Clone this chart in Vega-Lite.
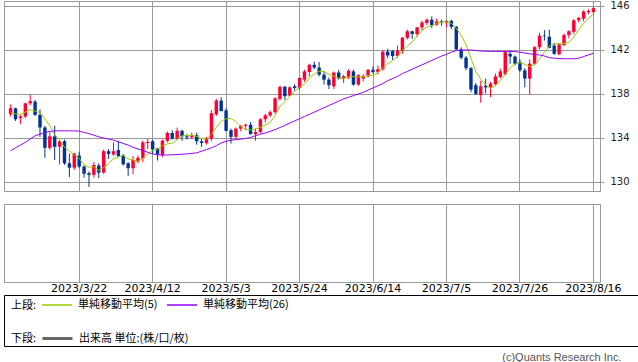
{
"$schema": "https://vega.github.io/schema/vega-lite/v6.json",
"padding": {"left": 3, "top": 0, "right": 0, "bottom": 0},
"background": "white",
"bounds": "flush",
"spacing": 13,
"title": {"text": "(c)Quants Research Inc.", "orient": "bottom", "anchor": "end", "font": "Liberation Sans", "fontSize": 11, "fontWeight": "normal", "color": "#555555", "offset": 5, "dx": -17},
"resolve": {"scale": {"x": "independent", "y": "independent", "color": "independent"}, "legend": {"color": "independent"}, "axis": {"x": "independent", "y": "independent"}},
"datasets": {"px": [
{"d":"2023/3/2","o":136.15,"h":137.05,"l":135.95,"c":136.7,"m5":136.34,"m26":132.83},
{"d":"2023/3/3","o":136.7,"h":136.75,"l":135.55,"c":135.7,"m5":136.2,"m26":133.1},
{"d":"2023/3/6","o":135.8,"h":136.1,"l":135.25,"c":135.95,"m5":136.15,"m26":133.35},
{"d":"2023/3/7","o":135.95,"h":137.2,"l":135.8,"c":137.15,"m5":136.34,"m26":133.6},
{"d":"2023/3/8","o":137.15,"h":137.9,"l":136.95,"c":137.35,"m5":136.57,"m26":133.9},
{"d":"2023/3/9","o":137.3,"h":137.45,"l":136.0,"c":136.1,"m5":136.45,"m26":134.2},
{"d":"2023/3/10","o":136.1,"h":136.6,"l":134.1,"c":134.95,"m5":136.3,"m26":134.35},
{"d":"2023/3/13","o":134.95,"h":135.1,"l":132.2,"c":133.1,"m5":135.73,"m26":134.5},
{"d":"2023/3/14","o":133.1,"h":134.6,"l":132.9,"c":134.15,"m5":135.13,"m26":134.6},
{"d":"2023/3/15","o":134.15,"h":135.1,"l":132.0,"c":133.2,"m5":134.3,"m26":134.65},
{"d":"2023/3/16","o":133.2,"h":133.8,"l":131.6,"c":133.7,"m5":133.82,"m26":134.65},
{"d":"2023/3/17","o":133.7,"h":133.85,"l":131.55,"c":131.7,"m5":133.17,"m26":134.65},
{"d":"2023/3/20","o":131.7,"h":132.6,"l":130.45,"c":131.3,"m5":132.81,"m26":134.65},
{"d":"2023/3/21","o":131.3,"h":132.65,"l":131.1,"c":132.6,"m5":132.5,"m26":134.65},
{"d":"2023/3/22","o":132.4,"h":132.75,"l":131.25,"c":131.4,"m5":132.14,"m26":134.62},
{"d":"2023/3/23","o":131.4,"h":131.5,"l":130.4,"c":130.75,"m5":131.55,"m26":134.5},
{"d":"2023/3/24","o":130.8,"h":130.95,"l":129.55,"c":130.65,"m5":131.34,"m26":134.4},
{"d":"2023/3/27","o":130.65,"h":131.8,"l":130.4,"c":131.55,"m5":131.39,"m26":134.25},
{"d":"2023/3/28","o":131.5,"h":131.7,"l":130.35,"c":130.85,"m5":131.04,"m26":134.1},
{"d":"2023/3/29","o":130.85,"h":132.95,"l":130.75,"c":132.8,"m5":131.32,"m26":134.0},
{"d":"2023/3/30","o":132.8,"h":133.0,"l":132.1,"c":132.55,"m5":131.68,"m26":133.9},
{"d":"2023/3/31","o":132.5,"h":133.6,"l":132.4,"c":132.8,"m5":132.11,"m26":133.8},
{"d":"2023/4/3","o":132.9,"h":133.75,"l":132.3,"c":132.35,"m5":132.27,"m26":133.65},
{"d":"2023/4/4","o":132.4,"h":132.55,"l":131.5,"c":131.6,"m5":132.42,"m26":133.5},
{"d":"2023/4/5","o":131.7,"h":131.8,"l":130.55,"c":131.25,"m5":132.11,"m26":133.35},
{"d":"2023/4/6","o":131.25,"h":132.35,"l":130.7,"c":132.0,"m5":132.0,"m26":133.15},
{"d":"2023/4/7","o":131.85,"h":132.4,"l":131.7,"c":132.2,"m5":131.88,"m26":133.0},
{"d":"2023/4/10","o":132.15,"h":133.75,"l":131.8,"c":133.6,"m5":132.13,"m26":132.85},
{"d":"2023/4/11","o":133.55,"h":133.9,"l":133.0,"c":133.65,"m5":132.54,"m26":132.7},
{"d":"2023/4/12","o":133.7,"h":133.85,"l":132.55,"c":132.95,"m5":132.88,"m26":132.55},
{"d":"2023/4/13","o":133.05,"h":133.1,"l":131.95,"c":132.5,"m5":132.98,"m26":132.47},
{"d":"2023/4/14","o":132.45,"h":133.85,"l":132.25,"c":133.75,"m5":133.29,"m26":132.45},
{"d":"2023/4/17","o":133.75,"h":134.6,"l":133.6,"c":134.45,"m5":133.46,"m26":132.45},
{"d":"2023/4/18","o":134.45,"h":134.7,"l":133.85,"c":133.95,"m5":133.52,"m26":132.47},
{"d":"2023/4/19","o":133.95,"h":134.95,"l":133.8,"c":134.65,"m5":133.86,"m26":132.5},
{"d":"2023/4/20","o":134.65,"h":134.75,"l":133.75,"c":134.15,"m5":134.19,"m26":132.52},
{"d":"2023/4/21","o":134.15,"h":134.35,"l":133.85,"c":134.05,"m5":134.25,"m26":132.55},
{"d":"2023/4/24","o":134.05,"h":134.5,"l":133.9,"c":134.25,"m5":134.21,"m26":132.6},
{"d":"2023/4/25","o":134.25,"h":134.5,"l":133.4,"c":133.7,"m5":134.16,"m26":132.65},
{"d":"2023/4/26","o":133.7,"h":133.9,"l":133.2,"c":133.55,"m5":133.94,"m26":132.8},
{"d":"2023/4/27","o":133.55,"h":134.1,"l":133.4,"c":133.95,"m5":133.9,"m26":132.95},
{"d":"2023/4/28","o":133.95,"h":136.55,"l":133.7,"c":136.25,"m5":134.34,"m26":133.1},
{"d":"2023/5/1","o":136.15,"h":137.55,"l":136.0,"c":137.4,"m5":134.97,"m26":133.3},
{"d":"2023/5/2","o":137.4,"h":137.7,"l":136.4,"c":136.45,"m5":135.52,"m26":133.55},
{"d":"2023/5/3","o":136.5,"h":136.7,"l":134.6,"c":134.65,"m5":135.74,"m26":133.7},
{"d":"2023/5/4","o":134.7,"h":134.85,"l":133.5,"c":134.1,"m5":135.77,"m26":133.8},
{"d":"2023/5/5","o":134.1,"h":134.95,"l":133.9,"c":134.85,"m5":135.49,"m26":133.85},
{"d":"2023/5/8","o":134.85,"h":135.2,"l":134.6,"c":135.1,"m5":135.03,"m26":133.9},
{"d":"2023/5/9","o":135.1,"h":135.3,"l":134.7,"c":135.2,"m5":134.78,"m26":133.95},
{"d":"2023/5/10","o":135.2,"h":135.45,"l":134.3,"c":134.35,"m5":134.72,"m26":134.05},
{"d":"2023/5/11","o":134.35,"h":134.85,"l":133.75,"c":134.55,"m5":134.81,"m26":134.2},
{"d":"2023/5/12","o":134.55,"h":135.8,"l":134.4,"c":135.7,"m5":134.98,"m26":134.35},
{"d":"2023/5/15","o":135.7,"h":136.2,"l":135.4,"c":136.05,"m5":135.17,"m26":134.45},
{"d":"2023/5/16","o":136.05,"h":136.5,"l":135.9,"c":136.35,"m5":135.4,"m26":134.6},
{"d":"2023/5/17","o":136.35,"h":137.7,"l":136.2,"c":137.6,"m5":136.05,"m26":134.75},
{"d":"2023/5/18","o":137.55,"h":138.75,"l":137.4,"c":138.65,"m5":136.87,"m26":134.95},
{"d":"2023/5/19","o":138.65,"h":138.75,"l":137.45,"c":137.8,"m5":137.29,"m26":135.15},
{"d":"2023/5/22","o":137.85,"h":138.7,"l":137.8,"c":138.6,"m5":137.8,"m26":135.35},
{"d":"2023/5/23","o":138.7,"h":138.9,"l":138.3,"c":138.55,"m5":138.24,"m26":135.55},
{"d":"2023/5/24","o":138.55,"h":139.55,"l":138.4,"c":139.45,"m5":138.61,"m26":135.75},
{"d":"2023/5/25","o":139.3,"h":140.2,"l":139.1,"c":140.05,"m5":138.89,"m26":135.95},
{"d":"2023/5/26","o":140.0,"h":140.75,"l":139.6,"c":140.65,"m5":139.46,"m26":136.15},
{"d":"2023/5/29","o":140.65,"h":140.95,"l":140.25,"c":140.4,"m5":139.82,"m26":136.35},
{"d":"2023/5/30","o":140.4,"h":140.9,"l":139.6,"c":139.75,"m5":140.06,"m26":136.55},
{"d":"2023/5/31","o":139.75,"h":140.1,"l":138.85,"c":139.3,"m5":140.03,"m26":136.75},
{"d":"2023/6/1","o":139.3,"h":139.5,"l":138.45,"c":138.8,"m5":139.78,"m26":136.95},
{"d":"2023/6/2","o":138.7,"h":140.05,"l":138.45,"c":139.95,"m5":139.64,"m26":137.15},
{"d":"2023/6/5","o":139.95,"h":140.2,"l":139.3,"c":139.4,"m5":139.44,"m26":137.35},
{"d":"2023/6/6","o":139.4,"h":139.75,"l":139.0,"c":139.6,"m5":139.41,"m26":137.55},
{"d":"2023/6/7","o":139.5,"h":140.25,"l":139.35,"c":140.1,"m5":139.57,"m26":137.7},
{"d":"2023/6/8","o":140.05,"h":140.2,"l":138.75,"c":138.85,"m5":139.58,"m26":137.85},
{"d":"2023/6/9","o":138.85,"h":139.8,"l":138.75,"c":139.7,"m5":139.53,"m26":138.0},
{"d":"2023/6/12","o":139.4,"h":139.8,"l":139.15,"c":139.6,"m5":139.57,"m26":138.15},
{"d":"2023/6/13","o":139.6,"h":140.25,"l":139.5,"c":140.2,"m5":139.69,"m26":138.35},
{"d":"2023/6/14","o":140.2,"h":140.5,"l":139.85,"c":140.0,"m5":139.67,"m26":138.55},
{"d":"2023/6/15","o":140.0,"h":140.6,"l":139.8,"c":140.25,"m5":139.95,"m26":138.75},
{"d":"2023/6/16","o":140.25,"h":141.95,"l":140.1,"c":141.85,"m5":140.38,"m26":138.95},
{"d":"2023/6/19","o":141.85,"h":142.1,"l":141.25,"c":141.5,"m5":140.76,"m26":139.2},
{"d":"2023/6/20","o":141.9,"h":142.0,"l":141.1,"c":141.45,"m5":141.01,"m26":139.4},
{"d":"2023/6/21","o":141.45,"h":142.4,"l":141.3,"c":141.95,"m5":141.4,"m26":139.6},
{"d":"2023/6/22","o":141.9,"h":143.2,"l":141.65,"c":143.1,"m5":141.97,"m26":139.85},
{"d":"2023/6/23","o":143.1,"h":143.85,"l":142.95,"c":143.7,"m5":142.34,"m26":140.05},
{"d":"2023/6/26","o":143.7,"h":143.75,"l":143.0,"c":143.45,"m5":142.73,"m26":140.25},
{"d":"2023/6/27","o":143.45,"h":144.1,"l":143.2,"c":144.05,"m5":143.25,"m26":140.45},
{"d":"2023/6/28","o":144.05,"h":144.65,"l":143.8,"c":144.5,"m5":143.76,"m26":140.65},
{"d":"2023/6/29","o":144.45,"h":144.85,"l":144.25,"c":144.75,"m5":144.09,"m26":140.85},
{"d":"2023/6/30","o":144.75,"h":145.05,"l":144.0,"c":144.25,"m5":144.2,"m26":141.05},
{"d":"2023/7/3","o":144.3,"h":144.85,"l":144.2,"c":144.6,"m5":144.43,"m26":141.25},
{"d":"2023/7/4","o":144.6,"h":144.75,"l":144.2,"c":144.5,"m5":144.52,"m26":141.45},
{"d":"2023/7/5","o":144.5,"h":144.7,"l":144.05,"c":144.65,"m5":144.55,"m26":141.6},
{"d":"2023/7/6","o":144.65,"h":144.75,"l":143.9,"c":144.1,"m5":144.42,"m26":141.8},
{"d":"2023/7/7","o":144.1,"h":144.2,"l":142.0,"c":142.05,"m5":143.98,"m26":141.95},
{"d":"2023/7/10","o":142.05,"h":142.25,"l":141.15,"c":141.3,"m5":143.32,"m26":142.0},
{"d":"2023/7/11","o":141.3,"h":141.45,"l":140.15,"c":140.35,"m5":142.49,"m26":142.0},
{"d":"2023/7/12","o":140.35,"h":140.45,"l":138.15,"c":138.4,"m5":141.24,"m26":142.0},
{"d":"2023/7/13","o":138.8,"h":139.0,"l":137.9,"c":138.0,"m5":140.02,"m26":141.95},
{"d":"2023/7/14","o":137.9,"h":139.2,"l":137.2,"c":138.7,"m5":139.35,"m26":141.9},
{"d":"2023/7/17","o":138.75,"h":139.4,"l":138.05,"c":138.6,"m5":138.81,"m26":141.88},
{"d":"2023/7/18","o":138.6,"h":139.1,"l":137.7,"c":138.95,"m5":138.53,"m26":141.87},
{"d":"2023/7/19","o":138.9,"h":139.85,"l":138.8,"c":139.6,"m5":138.77,"m26":141.87},
{"d":"2023/7/20","o":139.55,"h":140.3,"l":139.4,"c":140.05,"m5":139.18,"m26":141.86},
{"d":"2023/7/21","o":139.8,"h":141.95,"l":139.7,"c":141.8,"m5":139.8,"m26":141.86},
{"d":"2023/7/24","o":141.65,"h":141.95,"l":140.75,"c":141.4,"m5":140.36,"m26":141.86},
{"d":"2023/7/25","o":141.4,"h":141.5,"l":140.6,"c":140.75,"m5":140.72,"m26":141.85},
{"d":"2023/7/26","o":140.9,"h":141.15,"l":140.0,"c":140.15,"m5":140.83,"m26":141.8},
{"d":"2023/7/27","o":140.15,"h":140.35,"l":138.6,"c":139.4,"m5":140.7,"m26":141.72},
{"d":"2023/7/28","o":139.4,"h":141.15,"l":137.95,"c":140.75,"m5":140.49,"m26":141.65},
{"d":"2023/7/31","o":140.75,"h":142.35,"l":140.6,"c":142.25,"m5":140.66,"m26":141.58},
{"d":"2023/8/1","o":142.25,"h":143.55,"l":142.05,"c":143.3,"m5":141.17,"m26":141.55},
{"d":"2023/8/2","o":143.3,"h":143.8,"l":142.85,"c":143.25,"m5":141.79,"m26":141.45},
{"d":"2023/8/3","o":143.2,"h":143.85,"l":142.15,"c":142.2,"m5":142.35,"m26":141.3},
{"d":"2023/8/4","o":142.4,"h":142.65,"l":141.55,"c":141.65,"m5":142.53,"m26":141.25},
{"d":"2023/8/7","o":141.6,"h":142.6,"l":141.55,"c":142.5,"m5":142.58,"m26":141.22},
{"d":"2023/8/8","o":142.45,"h":143.5,"l":142.35,"c":143.35,"m5":142.59,"m26":141.2},
{"d":"2023/8/9","o":143.35,"h":143.8,"l":143.05,"c":143.7,"m5":142.68,"m26":141.2},
{"d":"2023/8/10","o":143.65,"h":144.8,"l":143.45,"c":144.7,"m5":143.18,"m26":141.2},
{"d":"2023/8/11","o":144.7,"h":145.0,"l":144.5,"c":144.9,"m5":143.83,"m26":141.25},
{"d":"2023/8/14","o":144.85,"h":145.6,"l":144.6,"c":145.5,"m5":144.43,"m26":141.4},
{"d":"2023/8/15","o":145.45,"h":145.7,"l":145.25,"c":145.55,"m5":144.87,"m26":141.55},
{"d":"2023/8/16","o":145.45,"h":145.9,"l":145.3,"c":145.8,"m5":145.29,"m26":141.7}
]},
"vconcat": [
{
"width": 596, "height": 190,
"view": {"stroke": "#999999", "strokeWidth": 1},
"data": {"name": "px"},
"encoding": {
"x": {"field": "d", "type": "ordinal", "sort": null, "title": null,
"scale": {"paddingInner": 0.3, "paddingOuter": 8.44},
"axis": {"values": ["2023/3/22","2023/4/12","2023/5/3","2023/5/24","2023/6/14","2023/7/5","2023/7/26","2023/8/16"], "labels": false, "ticks": false, "domain": false, "grid": true, "gridColor": "#999999", "gridOpacity": 1, "bandPosition": 0.5}}
},
"layer": [
{"mark": {"type": "rule", "strokeWidth": 1},
"encoding": {
"y": {"field": "l", "type": "quantitative", "title": null,
"scale": {"domain": [129.18, 146.45], "nice": false, "zero": false},
"axis": {"orient": "right", "values": [130,132,134,136,138,140,142,144,146], "grid": true, "gridColor": "#999999", "gridOpacity": 1, "domain": false, "tickSize": 4, "tickColor": "#999999", "labelFont": "DejaVu Sans", "labelFontSize": 10, "labelColor": "#222222", "labelPadding": 6, "format": "d"}},
"y2": {"field": "h"},
"color": {"condition": {"test": "datum.c > datum.o", "value": "#ff0033"}, "value": "#003399"}
}},
{"mark": {"type": "bar"},
"encoding": {
"y": {"field": "o", "type": "quantitative", "title": null},
"y2": {"field": "c"},
"color": {"condition": {"test": "datum.c > datum.o", "value": "#ff0033"}, "value": "#003399"}
}},
{"transform": [{"fold": ["m5", "m26"], "as": ["k", "v"]}],
"mark": {"type": "line", "strokeWidth": 1},
"encoding": {
"y": {"field": "v", "type": "quantitative", "title": null},
"color": {"field": "k", "type": "nominal",
"scale": {"domain": ["m5", "m26"], "range": ["#99cc00", "#9900ff"]},
"legend": {"orient": "none", "legendX": 7, "legendY": 288, "direction": "horizontal", "title": "上段:", "titleOrient": "left", "titleAnchor": "middle", "titleBaseline": "top", "titleFont": "Noto Sans CJK JP", "titleFontSize": 11, "titleFontWeight": "normal", "titleColor": "#000000", "titlePadding": 4, "labelFont": "Noto Sans CJK JP", "labelFontSize": 11, "labelColor": "#000000", "labelOffset": 5, "symbolType": "stroke", "symbolSize": 900, "symbolStrokeWidth": 1.5, "columnPadding": 6, "labelExpr": "datum.value == 'm5' ? '単純移動平均(5)' : '単純移動平均(26)'"}}
}}
]
},
{
"width": 596, "height": 78,
"view": {"stroke": "#999999", "strokeWidth": 1},
"data": {"name": "px"},
"mark": {"type": "line", "strokeWidth": 3, "invalid": "break-paths-show-domains"},
"encoding": {
"x": {"field": "d", "type": "ordinal", "sort": null, "title": null,
"scale": {"type": "band", "paddingInner": 0.3, "paddingOuter": 8.44},
"axis": {"values": ["2023/3/22","2023/4/12","2023/5/3","2023/5/24","2023/6/14","2023/7/5","2023/7/26","2023/8/16"], "labelAngle": 0, "ticks": false, "domain": false, "grid": true, "gridColor": "#999999", "gridOpacity": 1, "bandPosition": 0.5, "labelFont": "DejaVu Sans", "labelFontSize": 11, "labelColor": "#000000", "labelPadding": 0}},
"y": {"field": "vol", "type": "quantitative", "axis": null},
"color": {"datum": "出来高 単位:(株/口/枚)", "type": "nominal", "scale": {"range": ["#666666"]},
"legend": {"orient": "none", "legendX": 7, "legendY": 118, "title": "下段:", "titleOrient": "left", "titleAnchor": "middle", "titleBaseline": "top", "titleFont": "Noto Sans CJK JP", "titleFontSize": 11, "titleFontWeight": "normal", "titleColor": "#000000", "titlePadding": 4, "labelFont": "Noto Sans CJK JP", "labelFontSize": 11, "labelColor": "#000000", "labelOffset": 5, "symbolType": "stroke", "symbolSize": 900, "symbolStrokeWidth": 3, "symbolStrokeColor": "#666666"}}
}
},
{
"width": 634, "height": 51,
"view": {"stroke": "#000000", "strokeWidth": 1},
"data": {"values": [{"t": ""}]},
"mark": {"type": "text"},
"encoding": {"text": {"field": "t"}}
}
]
}
